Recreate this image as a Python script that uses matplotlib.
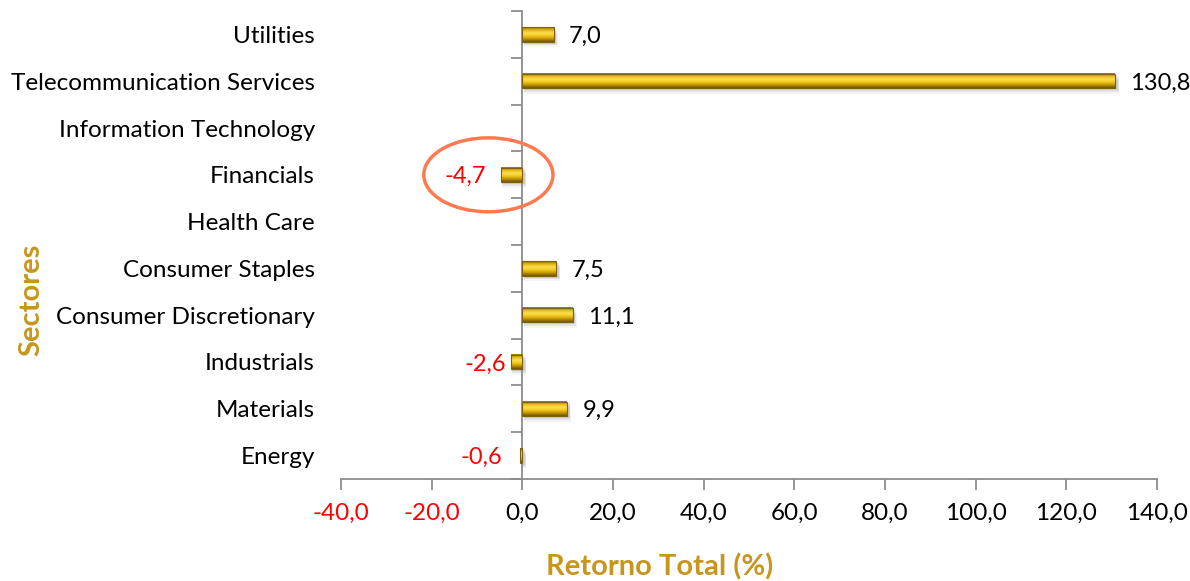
import numpy as np
import matplotlib.pyplot as plt
from matplotlib.patches import Ellipse
from matplotlib.colors import LinearSegmentedColormap
import matplotlib.transforms as mtransforms

plt.rcParams['font.family'] = ['Lato', 'DejaVu Sans']

# Sector returns (%), bottom to top; NaN = no bar
sectors = ["Energy", "Materials", "Industrials", "Consumer Discretionary",
           "Consumer Staples", "Health Care", "Financials",
           "Information Technology", "Telecommunication Services", "Utilities"]
returns = [-0.6, 9.9, -2.6, 11.1, 7.5, np.nan, -4.7, np.nan, 130.8, 7.0]
xticks = [-40, -20, 0, 20, 40, 60, 80, 100, 120, 140]

# horizontal gap (pixels) between bar end and its value label
label_gap = [17, 15, 4, 15, 15, 15, 15, 15, 15, 15]

gold = "#C8961E"
axis_gray = "#8C8C8C"

fig = plt.figure(figsize=(11.9, 5.81), dpi=100)
ax = fig.add_axes([0.2866, 0.1756, 0.6857, 0.8054])
ax.set_xlim(-40, 140)
ax.set_ylim(-0.5, len(sectors) - 0.5)

# bevelled gold gradient (top -> bottom)
bar_cmap = LinearSegmentedColormap.from_list(
    "goldbar", ["#9A7300", "#E0B816", "#FFE050", "#F0C81E", "#C09203", "#6E5000"])
grad = np.linspace(0, 1, 64).reshape(-1, 1)
h = 0.31

for i, v in enumerate(returns):
    if np.isnan(v):
        continue
    x0, x1 = min(0, v), max(0, v)
    # soft drop shadow
    for k, a in enumerate([0.10, 0.07, 0.04]):
        d = 0.04 * (k + 1)
        ax.add_patch(plt.Rectangle((x0 + 0.3, i - h / 2 - d), x1 - x0 + 0.2 * (k + 1), h,
                                   facecolor="#000000", alpha=a, lw=0, zorder=2))
    ax.imshow(grad, cmap=bar_cmap, aspect="auto", interpolation="bicubic",
              extent=[x0, x1, i - h / 2, i + h / 2], zorder=3)
    ax.add_patch(plt.Rectangle((x0, i - h / 2), x1 - x0, h, facecolor="none",
                               edgecolor="#7E6010", lw=0.8, zorder=4))
    # value label
    lbl = f"{v:.1f}".replace(".", ",")
    g = label_gap[i]
    if v >= 0:
        ax.annotate(lbl, (v, i), xytext=(g, -2), textcoords="offset pixels",
                    ha="left", va="center", fontsize=17, color="black")
    else:
        ax.annotate(lbl, (v, i), xytext=(-g, -2), textcoords="offset pixels",
                    ha="right", va="center", fontsize=17, color="red")

# category labels on the left of the plot area
blend = mtransforms.blended_transform_factory(ax.transAxes, ax.transData)
for i, s in enumerate(sectors):
    ax.annotate(s, (0, i), xycoords=blend, xytext=(-26, -2), textcoords="offset pixels",
                ha="right", va="center", fontsize=17.5, color="black")

# axes styling: vertical axis at x=0, horizontal axis at bottom
for side in ["top", "right"]:
    ax.spines[side].set_visible(False)
ax.spines["left"].set_position(("data", 0))
ax.spines["left"].set_color(axis_gray)
ax.spines["bottom"].set_color(axis_gray)
ax.spines["left"].set_linewidth(1.3)
ax.spines["bottom"].set_linewidth(1.3)

ax.set_yticks(np.arange(len(sectors)))
ax.set_yticklabels([])
ax.tick_params(axis="y", which="major", length=0)
ax.set_yticks(np.arange(-0.5, len(sectors)), minor=True)
ax.tick_params(axis="y", which="minor", length=8, width=1.3, color=axis_gray, direction="out")

ax.set_xticks(xticks)
ax.set_xticklabels([f"{t:.1f}".replace(".", ",") for t in xticks], fontsize=17.5)
for t, lab in zip(xticks, ax.get_xticklabels()):
    lab.set_color("red" if t < 0 else "black")
ax.tick_params(axis="x", length=8, width=1.3, color=axis_gray, pad=9)

fig.text(660 / 1190, 1 - 567 / 581, "Retorno Total (%)", fontsize=21, fontweight="bold",
         color=gold, ha="center", va="center")
fig.text(0.026, 0.484, "Sectores", rotation=90, fontsize=21, fontweight="bold",
         color=gold, ha="center", va="center")

# highlight around Financials
fin = sectors.index("Financials")
ell = Ellipse((-7.5, fin), width=28.5, height=1.58, facecolor="none",
              edgecolor="#FF7A50", lw=2.5, zorder=5, clip_on=False)
ax.add_patch(ell)

fig.savefig("out.png", dpi=100)
